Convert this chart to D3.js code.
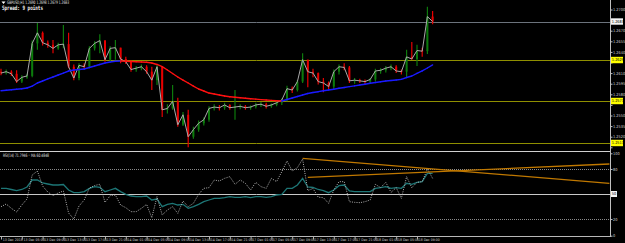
<!DOCTYPE html>
<html><head><meta charset="utf-8">
<script src="https://cdn.jsdelivr.net/npm/d3@7"></script>
<style>html,body{margin:0;padding:0;background:#000;overflow:hidden}</style>
</head><body><svg id="c" width="625" height="243"></svg>
<script>
const symbolTitle = "GBPUSD,H1  1.2690 1.2698 1.2679 1.2683";
const spreadText = "Spread: 9 points";
const rsiTitle = "RSI(14) 71.7946  \u25E6 MA 60.4848";

const opens = [1.2612,1.2610,1.2612,1.2609,1.2598,1.2604,1.2606,1.2652,1.2667,1.2653,
1.2650,1.2645,1.2650,1.2651,1.2619,1.2603,1.2621,1.2619,1.2645,1.2652,
1.2656,1.2629,1.2645,1.2646,1.2630,1.2626,1.2615,1.2617,1.2619,1.2612,
1.2600,1.2619,1.2558,1.2560,1.2570,1.2537,1.2551,1.2520,1.2530,1.2539,
1.2544,1.2560,1.2562,1.2561,1.2565,1.2561,1.2562,1.2563,1.2561,1.2562,
1.2565,1.2566,1.2563,1.2565,1.2568,1.2572,1.2588,1.2586,1.2598,1.2629,
1.2612,1.2610,1.2598,1.2596,1.2591,1.2612,1.2619,1.2618,1.2599,1.2600,
1.2599,1.2598,1.2601,1.2613,1.2614,1.2617,1.2619,1.2613,1.2612,1.2633,
1.2630,1.2642,1.2641,1.2690];
const closes = [1.2610,1.2612,1.2609,1.2598,1.2604,1.2606,1.2652,1.2667,1.2653,1.2650,
1.2645,1.2650,1.2651,1.2619,1.2603,1.2621,1.2619,1.2645,1.2652,1.2656,
1.2629,1.2645,1.2646,1.2630,1.2626,1.2615,1.2617,1.2619,1.2612,1.2600,
1.2619,1.2558,1.2560,1.2570,1.2537,1.2551,1.2520,1.2530,1.2539,1.2544,
1.2560,1.2562,1.2561,1.2565,1.2561,1.2562,1.2563,1.2561,1.2562,1.2565,
1.2566,1.2563,1.2565,1.2568,1.2572,1.2588,1.2586,1.2598,1.2629,1.2612,
1.2610,1.2598,1.2596,1.2591,1.2612,1.2619,1.2618,1.2599,1.2600,1.2599,
1.2598,1.2601,1.2613,1.2614,1.2617,1.2619,1.2613,1.2612,1.2633,1.2630,
1.2642,1.2641,1.2690,1.2683];
const highs = [1.2616,1.2615,1.2614,1.2614,1.2607,1.2609,1.2656,1.2681,1.2669,1.2656,
1.2657,1.2653,1.2678,1.2667,1.2622,1.2624,1.2624,1.2648,1.2655,1.2665,
1.2657,1.2648,1.2657,1.2646,1.2633,1.2628,1.2620,1.2622,1.2621,1.2619,
1.2621,1.2619,1.2566,1.2593,1.2575,1.2555,1.2558,1.2534,1.2543,1.2547,
1.2563,1.2566,1.2565,1.2568,1.2566,1.2586,1.2566,1.2565,1.2564,1.2568,
1.2569,1.2568,1.2567,1.2570,1.2574,1.2592,1.2591,1.2600,1.2638,1.2629,
1.2616,1.2611,1.2603,1.2598,1.2615,1.2622,1.2624,1.2620,1.2603,1.2602,
1.2601,1.2603,1.2616,1.2617,1.2620,1.2622,1.2621,1.2615,1.2643,1.2654,
1.2650,1.2646,1.2704,1.2698];
const lows = [1.2607,1.2608,1.2606,1.2596,1.2596,1.2602,1.2604,1.2643,1.2649,1.2646,
1.2638,1.2643,1.2645,1.2617,1.2600,1.2600,1.2615,1.2617,1.2642,1.2638,
1.2626,1.2627,1.2629,1.2624,1.2623,1.2612,1.2612,1.2614,1.2609,1.2586,
1.2593,1.2548,1.2553,1.2558,1.2534,1.2535,1.2505,1.2517,1.2527,1.2536,
1.2541,1.2557,1.2557,1.2558,1.2558,1.2544,1.2559,1.2558,1.2558,1.2560,
1.2562,1.2560,1.2561,1.2563,1.2565,1.2570,1.2582,1.2584,1.2596,1.2590,
1.2604,1.2594,1.2583,1.2587,1.2588,1.2608,1.2614,1.2596,1.2595,1.2596,
1.2595,1.2596,1.2598,1.2609,1.2611,1.2614,1.2610,1.2608,1.2603,1.2629,
1.2620,1.2633,1.2637,1.2679];
const movingAvg = [1.25851,1.25857,1.25864,1.25871,1.25878,1.25889,1.25917,1.25960,1.25988,1.26017,
1.26045,1.26073,1.26101,1.26130,1.26144,1.26151,1.26158,1.26179,1.26201,1.26222,
1.26243,1.26257,1.26267,1.26271,1.26267,1.26264,1.26260,1.26257,1.26253,1.26243,
1.26222,1.26191,1.26144,1.26094,1.26045,1.26002,1.25960,1.25917,1.25875,1.25847,
1.25818,1.25804,1.25790,1.25776,1.25766,1.25758,1.25752,1.25745,1.25738,1.25731,
1.25725,1.25719,1.25714,1.25709,1.25705,1.25726,1.25748,1.25769,1.25790,1.25811,
1.25826,1.25837,1.25850,1.25861,1.25872,1.25885,1.25896,1.25908,1.25920,1.25932,
1.25943,1.25956,1.25967,1.25978,1.25988,1.25995,1.26002,1.26012,1.26038,1.26059,
1.26097,1.26130,1.26172,1.26215];
const rsiValues = [34.8,38.0,32.8,28.4,36.8,44.0,72.8,77.6,59.6,52.4,
48.0,51.2,53.6,27.2,20.0,35.6,42.8,57.2,60.2,61.6,
40.0,48.0,48.8,36.8,33.6,28.8,28.8,32.8,37.6,21.6,
46.8,24.8,30.8,34.8,26.8,41.6,34.8,38.8,49.6,56.8,
57.6,66.8,65.6,68.8,70.8,61.6,66.8,62.8,54.8,64.0,
58.8,56.8,68.8,64.8,76.8,89.6,77.6,81.6,92.0,54.2,
56.6,46.2,45.6,38.8,54.8,64.8,64.8,40.8,40.0,39.6,
40.8,42.8,61.6,57.6,64.0,52.0,57.6,44.8,70.8,57.6,
64.0,64.8,80.0,68.8];
const rsiSignal = [56.8,56.8,55.4,54.0,55.4,58.4,66.8,66.8,63.2,62.0,
60.8,60.8,61.4,54.8,51.6,51.6,52.8,56.8,58.8,58.0,
52.8,54.8,56.8,52.8,49.6,47.6,46.8,46.8,47.6,42.8,
44.0,34.8,37.6,38.8,36.8,37.6,32.8,34.8,37.6,40.8,
42.8,44.8,44.8,45.6,46.8,46.0,46.0,46.8,45.6,46.8,
46.8,46.0,46.8,48.8,49.6,56.8,56.8,60.8,68.8,58.4,
57.8,55.4,54.0,51.6,54.8,60.0,60.8,53.6,52.8,52.8,
52.8,52.8,56.8,57.6,58.8,56.8,57.6,56.8,62.8,61.6,
64.0,64.8,74.8,74.8];
const priceTicks = [1.2700,1.2685,1.2670,1.2655,1.2640,1.2625,1.2610,1.2595,1.2580,1.2565,1.2550,1.2535,1.2520,1.2505];
const bidLevel = 1.2683;
const levelLines = [1.26285,1.25705,1.25111];
const rsiTicks = [100,80,50,20,0];
const rsiDotted = [80,20];
const rsiSolid = 50;
const trendLines = [[[58,92.8],[117,62.8]],[[59,70.0],[117,86.0]]];
const timeIdx = [0,4,8,12,16,20,24,28,32,36,40,44,48,52,56,60,64,68,72,76,80];
const timeLabels = ["13 Dec 2018","13 Dec 05:00","13 Dec 09:00","13 Dec 13:00","13 Dec 17:00","13 Dec 21:00",
"14 Dec 01:00","14 Dec 05:00","14 Dec 09:00","14 Dec 13:00","14 Dec 17:00","14 Dec 21:00",
"17 Dec 01:00","17 Dec 05:00","17 Dec 09:00","17 Dec 13:00","17 Dec 17:00","17 Dec 21:00",
"18 Dec 01:00","18 Dec 05:00","18 Dec 09:00"];

const svg = d3.select("#c");
const AX = 610.5;
const x = d3.scaleLinear().domain([0,117]).range([1,609.4]);
const yP = d3.scaleLinear().domain([1.2505,1.2700]).range([147.3,9.5]);
const yR = d3.scaleLinear().domain([0,100]).range([235.7,152.3]);
const narrow = "'Liberation Sans Narrow','DejaVu Sans Condensed','Liberation Sans',sans-serif";
const txt = "#d0d0d0";

svg.append("rect").attr("width",625).attr("height",243).attr("fill","#000");
const defs = svg.append("defs");
defs.append("clipPath").attr("id","cm").append("rect").attr("x",0).attr("y",0).attr("width",AX).attr("height",150.5);
defs.append("clipPath").attr("id","cr").append("rect").attr("x",0).attr("y",152).attr("width",AX).attr("height",84);

const main = svg.append("g").attr("clip-path","url(#cm)");
main.selectAll("line.lvl").data(levelLines).enter().append("line")
  .attr("x1",0).attr("x2",AX).attr("y1",d=>Math.round(yP(d))+0.5).attr("y2",d=>Math.round(yP(d))+0.5)
  .attr("stroke","#8f8f00").attr("stroke-width",1);
main.append("line").attr("x1",0).attr("x2",AX).attr("y1",Math.round(yP(bidLevel))+0.5).attr("y2",Math.round(yP(bidLevel))+0.5)
  .attr("stroke","#6c737c").attr("stroke-width",1);

const idx = d3.range(closes.length);
const col = i => closes[i] >= opens[i] ? "#0c7a0c" : "#e60000";
main.selectAll("line.wick").data(idx).enter().append("line")
  .attr("x1",i=>x(i)).attr("x2",i=>x(i)).attr("y1",i=>yP(highs[i])).attr("y2",i=>yP(lows[i]))
  .attr("stroke",col).attr("stroke-width",1.2);
main.selectAll("rect.body").data(idx).enter().append("rect")
  .attr("x",i=>x(i)-1).attr("width",2)
  .attr("y",i=>Math.min(yP(opens[i]),yP(closes[i])))
  .attr("height",i=>Math.max(1,Math.abs(yP(opens[i])-yP(closes[i]))))
  .attr("fill",col);
main.append("path").datum(idx)
  .attr("d",d3.line().x(i=>x(i)).y(i=>yP(closes[i])))
  .attr("fill","none").attr("stroke","#a9a9a9").attr("stroke-width",1);
main.selectAll("line.ma").data(idx.slice(1)).enter().append("line")
  .attr("x1",i=>x(i-1)).attr("x2",i=>x(i)).attr("y1",i=>yP(movingAvg[i-1])).attr("y2",i=>yP(movingAvg[i]))
  .attr("stroke",i=>movingAvg[i] < movingAvg[i-1] ? "#ff1010" : "#1a1aff")
  .attr("stroke-width",1.4).attr("stroke-linecap","round");

svg.append("path").attr("d","M1.5,1.5 L5.5,1.5 L3.5,4 Z").attr("fill","#ffffff");
svg.append("text").attr("x",7).attr("y",4).attr("font-family",narrow).attr("font-size",4.6)
  .attr("fill","#e8e8e8").attr("textLength",62).attr("lengthAdjust","spacingAndGlyphs").text(symbolTitle);
svg.append("text").attr("x",2).attr("y",10.5).attr("font-family","'DejaVu Sans Mono', monospace").attr("font-weight","bold").attr("font-size",4.3)
  .attr("fill","#f0f0f0").attr("textLength",41).attr("lengthAdjust","spacingAndGlyphs")
  .attr("transform","translate(2,10.5) scale(1,1.4) translate(-2,-10.5)").text(spreadText);

const rg = svg.append("g").attr("clip-path","url(#cr)");
rg.selectAll("line.rl").data(rsiDotted).enter().append("line")
  .attr("x1",0).attr("x2",AX).attr("y1",d=>Math.round(yR(d))+0.5).attr("y2",d=>Math.round(yR(d))+0.5)
  .attr("stroke","#8a8a8a").attr("stroke-dasharray","1,1");
rg.append("line").attr("x1",0).attr("x2",AX).attr("y1",Math.round(yR(rsiSolid))+0.5).attr("y2",Math.round(yR(rsiSolid))+0.5)
  .attr("stroke","#c8c8c8").attr("stroke-width",1);
rg.append("path").datum(idx).attr("d",d3.line().x(i=>x(i)).y(i=>yR(rsiSignal[i])))
  .attr("fill","none").attr("stroke","#1d7676").attr("stroke-width",1.3);
rg.append("path").datum(idx).attr("d",d3.line().x(i=>x(i)).y(i=>yR(rsiValues[i])))
  .attr("fill","none").attr("stroke","#b4b4b4").attr("stroke-width",1).attr("stroke-dasharray","1,1.3");
rg.selectAll("path.tl").data(trendLines).enter().append("path")
  .attr("d",d3.line().x(p=>x(p[0])).y(p=>yR(p[1])))
  .attr("fill","none").attr("stroke","#c07800").attr("stroke-width",1.3);
svg.append("text").attr("x",3).attr("y",156.5).attr("font-family",narrow).attr("font-size",4.6)
  .attr("fill","#e0e0e0").attr("textLength",46).attr("lengthAdjust","spacingAndGlyphs").text(rsiTitle);

svg.append("line").attr("x1",0).attr("x2",AX).attr("y1",151.5).attr("y2",151.5).attr("stroke","#d0d0d0").attr("stroke-width",1.2);
svg.append("line").attr("x1",0).attr("x2",AX).attr("y1",236.5).attr("y2",236.5).attr("stroke","#b8b8b8").attr("stroke-width",1);

const tagYs = [yP(bidLevel)].concat(levelLines.map(v=>yP(v)));
const hidden = y => tagYs.some(t=>Math.abs(t-y)<5.5);

const pa = svg.append("g").attr("transform",`translate(${AX},0)`)
  .call(d3.axisRight(yP).tickValues(priceTicks).tickSize(2).tickFormat(d3.format(".4f")));
pa.selectAll(".tick").filter(d=>hidden(yP(d))).select("text").remove();
const ra = svg.append("g").attr("transform",`translate(${AX},0)`)
  .call(d3.axisRight(yR).tickValues(rsiTicks).tickSize(2).tickFormat(d3.format("d")));
ra.selectAll(".tick").filter(d=>d===rsiSolid).select("text").remove();
ra.selectAll(".tick").filter(d=>d===100).attr("transform",`translate(0,${yR(100)+1.5})`);
[pa,ra].forEach(g=>{
  g.select(".domain").remove();
  g.selectAll("line").attr("stroke","#c0c0c0");
  g.selectAll("text").attr("font-family",narrow).attr("font-size",3.9).attr("fill",txt).attr("x",2.5);
});
svg.append("line").attr("x1",AX).attr("x2",AX).attr("y1",0).attr("y2",237).attr("stroke","#c0c0c0").attr("stroke-width",1);

function tag(v, y, bg){
  svg.append("rect").attr("x",611).attr("y",y-3.2).attr("width",12).attr("height",6.4).attr("fill",bg);
  svg.append("text").attr("x",611.8).attr("y",y+1.4).attr("font-family",narrow).attr("font-size",3.9)
    .attr("fill","#000").text(v);
}
tag(d3.format(".4f")(bidLevel), yP(bidLevel), "#f4f4f4");
levelLines.forEach(v=>tag(d3.format(".4f")(v), yP(v), "#ffff00"));
svg.append("rect").attr("x",611).attr("y",yR(rsiSolid)-3).attr("width",6).attr("height",6).attr("fill","#f4f4f4");
svg.append("text").attr("x",611.8).attr("y",yR(rsiSolid)+1.4).attr("font-family",narrow).attr("font-size",3.9).attr("fill","#000").text(String(rsiSolid));

const ta = svg.append("g").attr("transform","translate(0,236.5)")
  .call(d3.axisBottom(x).tickValues(timeIdx).tickSize(3).tickFormat((d,k)=>timeLabels[k]));
ta.select(".domain").remove();
ta.selectAll("line").attr("stroke","#b0b0b0");
ta.selectAll("text").attr("font-family",narrow).attr("font-size",3.5).attr("fill",txt)
  .attr("text-anchor","start").attr("x",1.2).attr("y",1.6).attr("dy","0.75em");
</script></body></html>
